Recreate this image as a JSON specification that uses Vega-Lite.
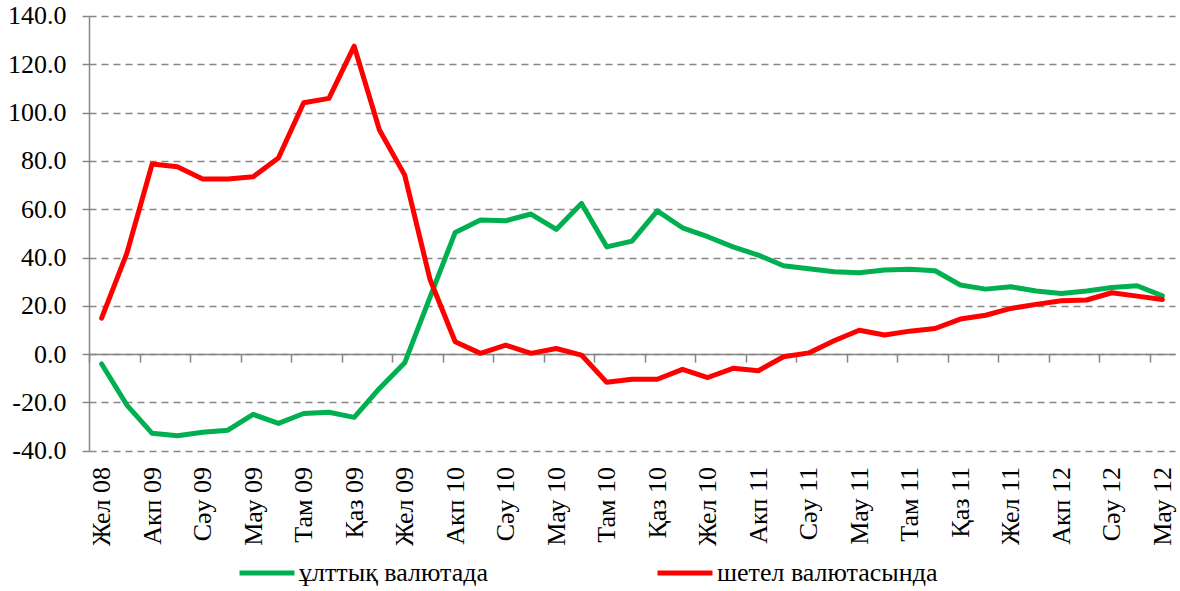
{
  "$schema": "https://vega.github.io/schema/vega-lite/v6.json",
  "width": 1086,
  "height": 434.7,
  "autosize": {"type": "none"},
  "padding": {"left": 89, "top": 16, "right": 5, "bottom": 140},
  "background": "white",
  "config": {
    "view": {"stroke": null},
    "font": "Liberation Serif"
  },
  "data": {
    "values": [
      {"m": "Жел 08", "s": "ұлттық валютада", "v": -4.1},
      {"m": "Қаң 09", "s": "ұлттық валютада", "v": -21.1},
      {"m": "Акп 09", "s": "ұлттық валютада", "v": -32.8},
      {"m": "Нау 09", "s": "ұлттық валютада", "v": -33.8},
      {"m": "Сәу 09", "s": "ұлттық валютада", "v": -32.4},
      {"m": "Мам 09", "s": "ұлттық валютада", "v": -31.5},
      {"m": "Мау 09", "s": "ұлттық валютада", "v": -25.0},
      {"m": "Шіл 09", "s": "ұлттық валютада", "v": -28.7},
      {"m": "Там 09", "s": "ұлттық валютада", "v": -24.6},
      {"m": "Қыр 09", "s": "ұлттық валютада", "v": -24.1},
      {"m": "Қаз 09", "s": "ұлттық валютада", "v": -26.2},
      {"m": "Қар 09", "s": "ұлттық валютада", "v": -14.2},
      {"m": "Жел 09", "s": "ұлттық валютада", "v": -3.6},
      {"m": "Қаң 10", "s": "ұлттық валютада", "v": 23.5},
      {"m": "Акп 10", "s": "ұлттық валютада", "v": 50.4},
      {"m": "Нау 10", "s": "ұлттық валютада", "v": 55.5},
      {"m": "Сәу 10", "s": "ұлттық валютада", "v": 55.2},
      {"m": "Мам 10", "s": "ұлттық валютада", "v": 58.0},
      {"m": "Мау 10", "s": "ұлттық валютада", "v": 51.6},
      {"m": "Шіл 10", "s": "ұлттық валютада", "v": 62.4},
      {"m": "Там 10", "s": "ұлттық валютада", "v": 44.4},
      {"m": "Қыр 10", "s": "ұлттық валютада", "v": 46.8},
      {"m": "Қаз 10", "s": "ұлттық валютада", "v": 59.3},
      {"m": "Қар 10", "s": "ұлттық валютада", "v": 52.3},
      {"m": "Жел 10", "s": "ұлттық валютада", "v": 48.6},
      {"m": "Қаң 11", "s": "ұлттық валютада", "v": 44.4},
      {"m": "Акп 11", "s": "ұлттық валютада", "v": 41.0},
      {"m": "Нау 11", "s": "ұлттық валютада", "v": 36.6},
      {"m": "Сәу 11", "s": "ұлттық валютада", "v": 35.3},
      {"m": "Мам 11", "s": "ұлттық валютада", "v": 34.1},
      {"m": "Мау 11", "s": "ұлттық валютада", "v": 33.7},
      {"m": "Шіл 11", "s": "ұлттық валютада", "v": 34.8},
      {"m": "Там 11", "s": "ұлттық валютада", "v": 35.1},
      {"m": "Қыр 11", "s": "ұлттық валютада", "v": 34.5},
      {"m": "Қаз 11", "s": "ұлттық валютада", "v": 28.6},
      {"m": "Қар 11", "s": "ұлттық валютада", "v": 26.9},
      {"m": "Жел 11", "s": "ұлттық валютада", "v": 27.9},
      {"m": "Қаң 12", "s": "ұлттық валютада", "v": 26.1},
      {"m": "Акп 12", "s": "ұлттық валютада", "v": 25.1},
      {"m": "Нау 12", "s": "ұлттық валютада", "v": 26.1},
      {"m": "Сәу 12", "s": "ұлттық валютада", "v": 27.6},
      {"m": "Мам 12", "s": "ұлттық валютада", "v": 28.3},
      {"m": "Мау 12", "s": "ұлттық валютада", "v": 24.1},
      {"m": "Жел 08", "s": "шетел валютасында", "v": 14.9},
      {"m": "Қаң 09", "s": "шетел валютасында", "v": 41.8},
      {"m": "Акп 09", "s": "шетел валютасында", "v": 78.7},
      {"m": "Нау 09", "s": "шетел валютасында", "v": 77.6},
      {"m": "Сәу 09", "s": "шетел валютасында", "v": 72.5},
      {"m": "Мам 09", "s": "шетел валютасында", "v": 72.5},
      {"m": "Мау 09", "s": "шетел валютасында", "v": 73.4},
      {"m": "Шіл 09", "s": "шетел валютасында", "v": 81.2},
      {"m": "Там 09", "s": "шетел валютасында", "v": 104.1},
      {"m": "Қыр 09", "s": "шетел валютасында", "v": 105.9},
      {"m": "Қаз 09", "s": "шетел валютасында", "v": 127.5},
      {"m": "Қар 09", "s": "шетел валютасында", "v": 92.8},
      {"m": "Жел 09", "s": "шетел валютасында", "v": 74.1},
      {"m": "Қаң 10", "s": "шетел валютасында", "v": 31.0},
      {"m": "Акп 10", "s": "шетел валютасында", "v": 5.1},
      {"m": "Нау 10", "s": "шетел валютасында", "v": 0.3},
      {"m": "Сәу 10", "s": "шетел валютасында", "v": 3.7},
      {"m": "Мам 10", "s": "шетел валютасында", "v": 0.3},
      {"m": "Мау 10", "s": "шетел валютасында", "v": 2.3},
      {"m": "Шіл 10", "s": "шетел валютасында", "v": -0.4},
      {"m": "Там 10", "s": "шетел валютасында", "v": -11.7},
      {"m": "Қыр 10", "s": "шетел валютасында", "v": -10.4},
      {"m": "Қаз 10", "s": "шетел валютасында", "v": -10.4},
      {"m": "Қар 10", "s": "шетел валютасында", "v": -6.3},
      {"m": "Жел 10", "s": "шетел валютасында", "v": -9.7},
      {"m": "Қаң 11", "s": "шетел валютасында", "v": -5.9},
      {"m": "Акп 11", "s": "шетел валютасында", "v": -6.9},
      {"m": "Нау 11", "s": "шетел валютасында", "v": -1.1},
      {"m": "Сәу 11", "s": "шетел валютасында", "v": 0.5},
      {"m": "Мам 11", "s": "шетел валютасында", "v": 5.5},
      {"m": "Мау 11", "s": "шетел валютасында", "v": 9.9},
      {"m": "Шіл 11", "s": "шетел валютасында", "v": 7.9},
      {"m": "Там 11", "s": "шетел валютасында", "v": 9.5},
      {"m": "Қыр 11", "s": "шетел валютасында", "v": 10.6},
      {"m": "Қаз 11", "s": "шетел валютасында", "v": 14.5},
      {"m": "Қар 11", "s": "шетел валютасында", "v": 16.1},
      {"m": "Жел 11", "s": "шетел валютасында", "v": 18.9},
      {"m": "Қаң 12", "s": "шетел валютасында", "v": 20.6},
      {"m": "Акп 12", "s": "шетел валютасында", "v": 22.1},
      {"m": "Нау 12", "s": "шетел валютасында", "v": 22.4},
      {"m": "Сәу 12", "s": "шетел валютасында", "v": 25.4},
      {"m": "Мам 12", "s": "шетел валютасында", "v": 24.0},
      {"m": "Мау 12", "s": "шетел валютасында", "v": 22.6}
    ]
  },
  "mark": {"type": "line", "strokeWidth": 5, "strokeJoin": "round", "strokeCap": "round"},
  "encoding": {
    "x": {
      "field": "m",
      "type": "ordinal",
      "sort": null,
      "scale": {"type": "point", "padding": 0.5},
      "axis": {
        "title": null,
        "values": ["Жел 08", "Акп 09", "Сәу 09", "Мау 09", "Там 09", "Қаз 09", "Жел 09", "Акп 10", "Сәу 10", "Мау 10", "Там 10", "Қаз 10", "Жел 10", "Акп 11", "Сәу 11", "Мау 11", "Там 11", "Қаз 11", "Жел 11", "Акп 12", "Сәу 12", "Мау 12"],
        "offset": -96.6,
        "domain": true,
        "domainColor": "#868686",
        "domainWidth": 1.5,
        "ticks": true,
        "tickColor": "#868686",
        "tickWidth": 1.5,
        "tickSize": 8,
        "tickOffset": -12.63,
        "labelOffset": 12.63,
        "labelAngle": -90,
        "labelPadding": 104.4,
        "labelFont": "Liberation Serif",
        "labelFontSize": 26,
        "labelColor": "#000000",
        "labelOverlap": false,
        "grid": false
      }
    },
    "y": {
      "field": "v",
      "type": "quantitative",
      "scale": {"domain": [-40, 140], "nice": false, "zero": false},
      "axis": {
        "title": null,
        "values": [-40, -20, 0, 20, 40, 60, 80, 100, 120, 140],
        "labelExpr": "replace(format(datum.value, '.1f'), '−', '-')",
        "domain": true,
        "domainColor": "#868686",
        "domainWidth": 1.5,
        "ticks": true,
        "tickColor": "#868686",
        "tickWidth": 1.5,
        "tickSize": 7,
        "grid": true,
        "gridColor": "#868686",
        "gridWidth": 1.5,
        "gridDash": [7, 5],
        "labelFont": "Liberation Serif",
        "labelFontSize": 26,
        "labelColor": "#000000",
        "labelPadding": 16
      }
    },
    "color": {
      "field": "s",
      "type": "nominal",
      "scale": {"domain": ["ұлттық валютада", "шетел валютасында"], "range": ["#00B050", "#FF0000"]},
      "legend": {
        "title": null,
        "orient": "none",
        "direction": "horizontal",
        "legendX": 148,
        "legendY": 527,
        "padding": 0,
        "symbolType": "stroke",
        "symbolSize": 3025,
        "symbolStrokeWidth": 5,
        "labelFont": "Liberation Serif",
        "labelFontSize": 26,
        "labelColor": "#000000",
        "labelOffset": 2,
        "columnPadding": 158,
        "labelLimit": 400
      }
    }
  }
}
